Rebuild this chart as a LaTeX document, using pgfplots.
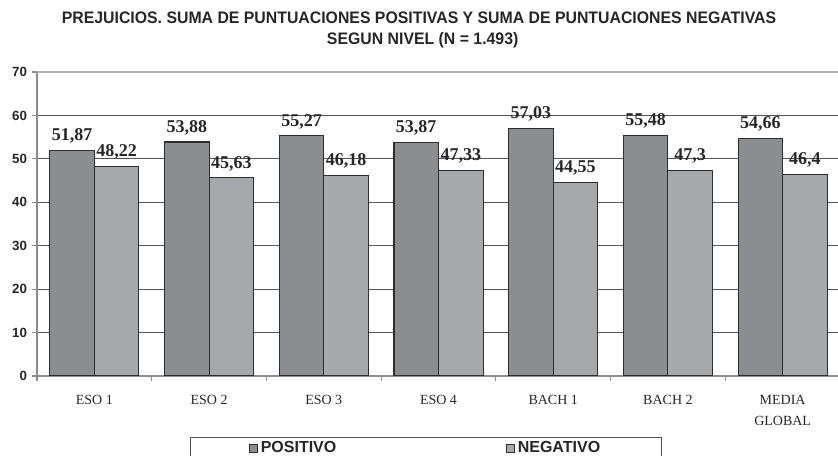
\documentclass[border=0pt]{standalone}
\usepackage{pgfplots}
\pgfplotsset{compat=1.18}
\usepackage{fontspec}
\setmainfont{Liberation Serif}
\newfontfamily\sansb{Liberation Sans}
\newfontfamily\titlefont[FakeStretch=0.95]{Liberation Sans}
\definecolor{posfill}{RGB}{140,141,145}
\definecolor{negfill}{RGB}{167,168,171}
\definecolor{edgec}{RGB}{45,45,45}
\definecolor{gridc}{RGB}{85,85,85}
\definecolor{axisc}{RGB}{140,140,140}
\begin{document}
\begin{tikzpicture}
\begin{axis}[
  at={(27.75pt,60pt)}, anchor=south west,
  scale only axis, width=602.25pt, height=228pt,
  xmin=-0.5, xmax=6.5, ymin=0, ymax=70,
  ybar=0pt, bar width=33.4pt,
  axis x line*=bottom, axis y line*=left,
  axis line style={axisc, line width=0.8pt},
  xtick={0,...,6},
  xticklabels={ESO 1,ESO 2,ESO 3,ESO 4,BACH 1,BACH 2,{MEDIA\\GLOBAL}},
  xticklabel style={align=center, font=\fontsize{10.5}{16}\selectfont, text=black!85, yshift=-7pt},
  major x tick style={draw=none},
  extra x ticks={-0.5,0.5,1.5,2.5,3.5,4.5,5.5,6.5},
  extra x tick labels={},
  extra x tick style={grid=none, major tick length=3.5pt, tick align=outside, major x tick style={draw=axisc, line width=0.8pt}},
  ytick={0,10,...,60},
  extra y ticks={70},
  extra y tick style={grid style={axisc!70, line width=0.9pt}},
  ymajorgrids,
  grid style={gridc, line width=0.9pt},
  tick align=outside, major tick length=4pt,
  tick style={axisc, line width=0.8pt},
  yticklabel style={font=\sansb\bfseries\fontsize{10}{12}\selectfont, text=black!85},
  /pgf/number format/assume math mode=true,
  nodes near coords={\pgfmathprintnumber[use comma, fixed, precision=2]{\pgfplotspointmeta}},
  nodes near coords style={font=\bfseries\fontsize{13.5}{14}\selectfont, text=black!85, anchor=south, yshift=1.5pt},
  legend columns=2,
  legend style={at={(0.1905,-0.2007)}, anchor=north west, draw=gridc, line width=1pt,
    font=\sansb\bfseries\fontsize{12}{14}\selectfont, text=black!85,
    inner xsep=44pt, inner ysep=1pt,
    /tikz/every even column/.append style={column sep=125.5pt}},
  legend image code/.code={\draw[#1,/tikz/.cd,line width=0.6pt] (0pt,-3pt) rectangle (6pt,3pt);},
]
\addplot[fill=posfill, draw=edgec, line width=0.8pt] coordinates {(0,51.87) (1,53.88) (2,55.27) (3,53.87) (4,57.03) (5,55.48) (6,54.66)};
\addplot[fill=negfill, draw=edgec, line width=0.8pt] coordinates {(0,48.22) (1,45.63) (2,46.18) (3,47.33) (4,44.55) (5,47.3) (6,46.4)};
\legend{POSITIVO,NEGATIVO}
\end{axis}
\node[font=\titlefont\bfseries\fontsize{12.5}{14}\selectfont, text=black!85] at (314.25pt,328.5pt) {PREJUICIOS. SUMA DE PUNTUACIONES POSITIVAS Y SUMA DE PUNTUACIONES NEGATIVAS};
\node[font=\titlefont\bfseries\fontsize{12.5}{14}\selectfont, text=black!85] at (317pt,312pt) {SEGUN NIVEL (N = 1.493)};
\pgfresetboundingbox
\path (0,0) rectangle (628.5pt,342pt);
\end{tikzpicture}
\end{document}
